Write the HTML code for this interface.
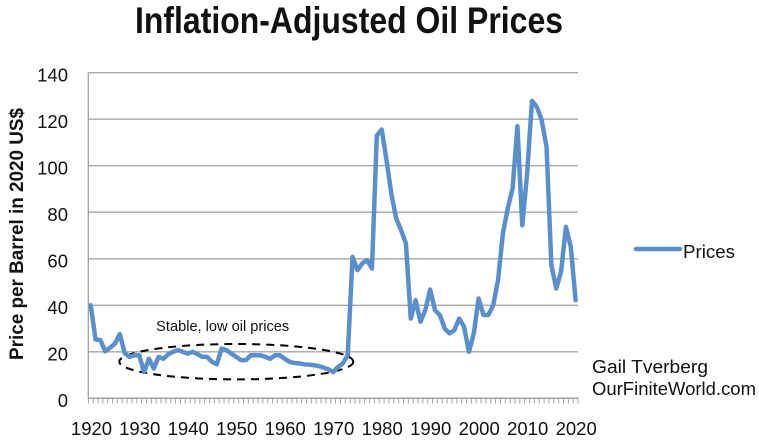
<!DOCTYPE html>
<html>
<head>
<meta charset="utf-8">
<style>
  html, body { margin:0; padding:0; background:#fff; }
  body { width:759px; height:444px; overflow:hidden; }
  svg { display:block; }
  text { font-family: "Liberation Sans", "DejaVu Sans", sans-serif; fill:#111; }
</style>
</head>
<body>
<svg width="759" height="444" viewBox="0 0 759 444" xmlns="http://www.w3.org/2000/svg">
  <defs>
    <pattern id="ticks" patternUnits="userSpaceOnUse" x="87.8" y="398" width="4.849" height="6">
      <rect x="0" y="0" width="1" height="6" fill="#a0a0a0"/>
    </pattern>
  </defs>
  <rect width="759" height="444" fill="#fff"/>

  <!-- Title -->
  <text x="135" y="33" font-size="37" font-weight="bold" textLength="428" lengthAdjust="spacingAndGlyphs">Inflation-Adjusted Oil Prices</text>

  <!-- Gridlines -->
  <g stroke="#a6a6a6" stroke-width="1.3">
    <line x1="88.3" y1="72.7" x2="578" y2="72.7"/>
    <line x1="88.3" y1="119.2" x2="578" y2="119.2"/>
    <line x1="88.3" y1="165.7" x2="578" y2="165.7"/>
    <line x1="88.3" y1="212.2" x2="578" y2="212.2"/>
    <line x1="88.3" y1="258.8" x2="578" y2="258.8"/>
    <line x1="88.3" y1="305.3" x2="578" y2="305.3"/>
    <line x1="88.3" y1="351.8" x2="578" y2="351.8"/>
  </g>
  <!-- Axes -->
  <line x1="88.3" y1="72.7" x2="88.3" y2="398.3" stroke="#a0a0a0" stroke-width="1.3"/>
  <line x1="88.3" y1="398.3" x2="578.3" y2="398.3" stroke="#a0a0a0" stroke-width="1.5"/>
  <rect x="87.8" y="398" width="491" height="5.5" fill="url(#ticks)"/>

  <!-- Y tick labels -->
  <g font-size="18.5" text-anchor="end">
    <text x="68" y="81.5">140</text>
    <text x="68" y="128">120</text>
    <text x="68" y="174.5">100</text>
    <text x="68" y="221">80</text>
    <text x="68" y="267.5">60</text>
    <text x="68" y="314">40</text>
    <text x="68" y="360.5">20</text>
    <text x="68" y="407">0</text>
  </g>

  <!-- X tick labels -->
  <g font-size="18.5" text-anchor="middle">
    <text x="91.5" y="435">1920</text>
    <text x="139.7" y="435">1930</text>
    <text x="188.2" y="435">1940</text>
    <text x="236.7" y="435">1950</text>
    <text x="285.2" y="435">1960</text>
    <text x="333.7" y="435">1970</text>
    <text x="382.2" y="435">1980</text>
    <text x="430.7" y="435">1990</text>
    <text x="479.2" y="435">2000</text>
    <text x="527.7" y="435">2010</text>
    <text x="576.2" y="435">2020</text>
  </g>

  <!-- Y axis title -->
  <text transform="translate(23,234) rotate(-90)" font-size="19" font-weight="bold" text-anchor="middle" textLength="252" lengthAdjust="spacingAndGlyphs">Price per Barrel in 2020 US$</text>

  <!-- Ellipse annotation -->
  <ellipse cx="236.3" cy="361.7" rx="117" ry="17.7" fill="none" stroke="#000" stroke-width="2" stroke-dasharray="8,6"/>
  <text x="222.7" y="331" font-size="14.5" text-anchor="middle" textLength="133" lengthAdjust="spacingAndGlyphs">Stable, low oil prices</text>

  <!-- Series -->
  <polyline fill="none" stroke="#5b8fcb" stroke-width="4.5" stroke-linejoin="round" stroke-linecap="round" points="
90.72,305.27 95.57,339.46 100.42,340.16 105.27,351.32 110.12,347.60 114.97,343.65 119.81,334.11 124.66,352.95 129.51,356.90 134.36,355.27
139.21,355.27 144.06,372.02 148.91,358.76 153.76,368.53 158.61,356.90 163.46,358.76 168.30,354.11 173.15,351.79 178.00,350.16 182.85,351.79
187.70,353.65 192.55,351.79 197.40,354.11 202.25,356.90 207.10,356.90 211.95,361.79 216.79,364.34 221.64,348.53 226.49,350.16 231.34,353.65
236.19,356.90 241.04,360.16 245.89,360.16 250.74,355.27 255.59,355.27 260.44,355.27 265.28,356.90 270.13,358.76 274.98,355.27 279.83,355.27
284.68,358.76 289.53,361.79 294.38,362.95 299.23,363.41 304.08,364.34 308.93,364.58 313.77,365.28 318.62,365.97 323.47,367.60 328.32,369.23
333.17,372.02 338.02,366.90 342.87,363.41 347.72,355.27 352.57,256.90 357.42,270.15 362.26,263.41 367.11,260.15 371.96,268.52 376.81,135.50
381.66,129.45 386.51,160.15 391.36,193.64 396.21,218.53 401.06,230.15 405.91,243.41 410.75,318.53 415.60,300.16 420.45,321.78 425.30,310.16
430.15,289.46 435.00,310.16 439.85,315.04 444.70,328.53 449.55,333.41 454.40,330.16 459.24,318.53 464.09,326.90 468.94,351.79 473.79,333.41
478.64,298.53 483.49,315.04 488.34,315.04 493.19,305.27 498.04,280.15 502.89,233.41 507.73,208.52 512.58,188.52 517.43,126.19 522.28,225.27
527.13,173.63 531.98,100.84 536.83,106.89 541.68,120.15 546.53,146.89 551.38,265.04 556.22,288.53 561.07,271.78 565.92,226.89 570.77,246.90
575.62,300.16"/>

  <!-- Legend -->
  <line x1="636" y1="249" x2="680" y2="249" stroke="#5b8fcb" stroke-width="4.5" stroke-linecap="round"/>
  <text x="683" y="258" font-size="18.5" textLength="52" lengthAdjust="spacingAndGlyphs">Prices</text>

  <!-- Credit -->
  <text x="592" y="373" font-size="18.5" textLength="116" lengthAdjust="spacingAndGlyphs">Gail Tverberg</text>
  <text x="592" y="395" font-size="18.5" textLength="164" lengthAdjust="spacingAndGlyphs">OurFiniteWorld.com</text>
</svg>
</body>
</html>
